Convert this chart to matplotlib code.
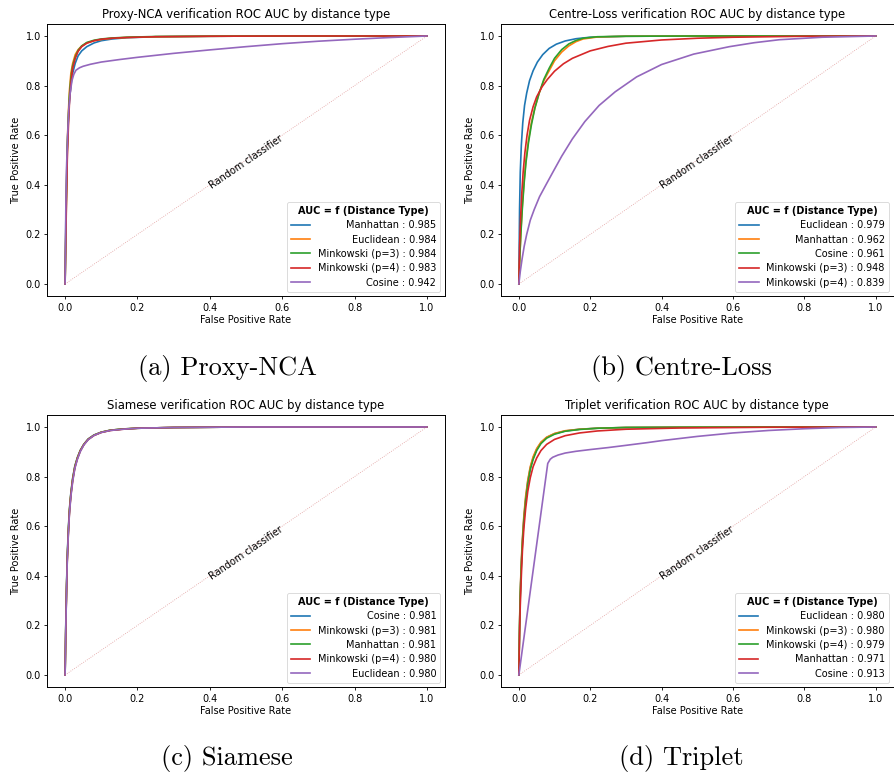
import matplotlib
matplotlib.use("Agg")
import matplotlib.pyplot as plt

plt.rcParams["font.family"] = ["DejaVu Sans"]

# ---------------- data: ROC points per model ----------------
proxy_labels = ["Manhattan", "Euclidean", "Minkowski (p=3)", "Minkowski (p=4)", "Cosine"]
proxy_auc = [0.985, 0.984, 0.984, 0.983, 0.942]
proxy_fpr_common = [0, 0.002, 0.004, 0.006, 0.009, 0.012, 0.016, 0.021, 0.028, 0.036,
                    0.046, 0.06, 0.08, 0.1, 0.13, 0.17, 0.25, 0.4, 0.6, 1.0]
proxy_fpr = [proxy_fpr_common] * 4 + [
    [0, 0.002, 0.004, 0.007, 0.01, 0.014, 0.019, 0.024, 0.03, 0.04, 0.05, 0.07, 0.1,
     0.15, 0.2, 0.3, 0.4, 0.5, 0.6, 0.7, 0.8, 0.9, 1.0]]
proxy_tpr = [
    [0, 0.25, 0.42, 0.55, 0.66, 0.74, 0.80, 0.85, 0.89, 0.92, 0.94, 0.957, 0.972, 0.981, 0.988, 0.993, 0.997, 0.999, 1.0, 1.0],
    [0, 0.22, 0.40, 0.56, 0.69, 0.78, 0.85, 0.89, 0.925, 0.945, 0.96, 0.972, 0.981, 0.986, 0.991, 0.994, 0.997, 0.999, 1.0, 1.0],
    [0, 0.20, 0.38, 0.54, 0.67, 0.76, 0.83, 0.88, 0.915, 0.942, 0.96, 0.974, 0.983, 0.988, 0.992, 0.995, 0.998, 0.999, 1.0, 1.0],
    [0, 0.18, 0.35, 0.50, 0.63, 0.73, 0.81, 0.87, 0.91, 0.938, 0.957, 0.971, 0.981, 0.987, 0.991, 0.994, 0.997, 0.999, 1.0, 1.0],
    [0, 0.30, 0.47, 0.60, 0.70, 0.77, 0.82, 0.845, 0.862, 0.872, 0.878, 0.886, 0.895, 0.905, 0.914, 0.93, 0.944, 0.957, 0.969, 0.979, 0.987, 0.994, 1.0],
]

centre_labels = ["Euclidean", "Manhattan", "Cosine", "Minkowski (p=3)", "Minkowski (p=4)"]
centre_auc = [0.979, 0.962, 0.961, 0.948, 0.839]
centre_fpr = [
    [0, 0.002, 0.004, 0.007, 0.011, 0.016, 0.022, 0.03, 0.04, 0.052, 0.067, 0.085, 0.105, 0.13, 0.16, 0.2, 0.3, 0.5, 1.0],
    [0, 0.003, 0.006, 0.01, 0.015, 0.02, 0.027, 0.035, 0.045, 0.057, 0.07, 0.085, 0.1, 0.12, 0.14, 0.16, 0.18, 0.22, 0.3, 0.5, 1.0],
    [0, 0.003, 0.006, 0.01, 0.015, 0.02, 0.027, 0.035, 0.045, 0.057, 0.07, 0.085, 0.1, 0.12, 0.14, 0.16, 0.18, 0.22, 0.3, 0.5, 1.0],
    [0, 0.002, 0.005, 0.008, 0.012, 0.017, 0.023, 0.03, 0.04, 0.05, 0.065, 0.08, 0.1, 0.125, 0.15, 0.2, 0.25, 0.3, 0.4, 0.5, 0.6, 0.8, 1.0],
    [0, 0.004, 0.009, 0.015, 0.022, 0.032, 0.043, 0.058, 0.076, 0.095, 0.12, 0.15, 0.185, 0.225, 0.27, 0.33, 0.4, 0.49, 0.59, 0.66, 0.73, 0.85, 1.0],
]
centre_tpr = [
    [0, 0.30, 0.45, 0.56, 0.65, 0.72, 0.77, 0.82, 0.86, 0.895, 0.925, 0.95, 0.967, 0.98, 0.989, 0.995, 0.999, 1.0, 1.0],
    [0, 0.12, 0.22, 0.32, 0.42, 0.50, 0.58, 0.65, 0.71, 0.77, 0.82, 0.86, 0.90, 0.935, 0.96, 0.977, 0.988, 0.996, 0.999, 1.0, 1.0],
    [0, 0.12, 0.21, 0.31, 0.41, 0.49, 0.57, 0.64, 0.71, 0.77, 0.825, 0.87, 0.91, 0.945, 0.968, 0.982, 0.991, 0.997, 0.999, 1.0, 1.0],
    [0, 0.15, 0.27, 0.36, 0.45, 0.53, 0.60, 0.66, 0.715, 0.755, 0.795, 0.825, 0.858, 0.888, 0.91, 0.94, 0.958, 0.971, 0.984, 0.991, 0.995, 0.999, 1.0],
    [0, 0.05, 0.10, 0.152, 0.20, 0.257, 0.30, 0.352, 0.40, 0.45, 0.515, 0.585, 0.655, 0.72, 0.775, 0.835, 0.885, 0.927, 0.957, 0.973, 0.985, 0.995, 1.0],
]

siamese_labels = ["Cosine", "Minkowski (p=3)", "Manhattan", "Minkowski (p=4)", "Euclidean"]
siamese_auc = [0.981, 0.981, 0.981, 0.980, 0.980]
siamese_fpr_common = [0, 0.002, 0.004, 0.006, 0.009, 0.012, 0.016, 0.021, 0.027, 0.034, 0.042,
                      0.052, 0.064, 0.08, 0.1, 0.125, 0.16, 0.2, 0.3, 0.5, 1.0]
siamese_fpr = [siamese_fpr_common] * 5
siamese_tpr = [
    [0, 0.21, 0.36, 0.48, 0.59, 0.67, 0.735, 0.795, 0.843, 0.877, 0.906, 0.931, 0.952, 0.968, 0.979, 0.987, 0.992, 0.995, 0.998, 1.0, 1.0],
    [0, 0.20, 0.35, 0.47, 0.58, 0.665, 0.73, 0.79, 0.84, 0.876, 0.905, 0.93, 0.951, 0.967, 0.979, 0.987, 0.992, 0.995, 0.998, 1.0, 1.0],
    [0, 0.20, 0.35, 0.47, 0.58, 0.66, 0.73, 0.79, 0.84, 0.875, 0.905, 0.93, 0.951, 0.967, 0.979, 0.987, 0.992, 0.995, 0.998, 1.0, 1.0],
    [0, 0.19, 0.34, 0.46, 0.57, 0.655, 0.725, 0.785, 0.836, 0.872, 0.903, 0.929, 0.95, 0.966, 0.978, 0.986, 0.991, 0.995, 0.998, 1.0, 1.0],
    [0, 0.19, 0.34, 0.46, 0.57, 0.65, 0.72, 0.78, 0.833, 0.87, 0.901, 0.928, 0.949, 0.966, 0.978, 0.986, 0.991, 0.995, 0.998, 1.0, 1.0],
]

triplet_labels = ["Euclidean", "Minkowski (p=3)", "Minkowski (p=4)", "Manhattan", "Cosine"]
triplet_auc = [0.980, 0.980, 0.979, 0.971, 0.913]
triplet_fpr_common = [0, 0.002, 0.004, 0.007, 0.01, 0.014, 0.019, 0.025, 0.032, 0.04, 0.05,
                      0.062, 0.078, 0.1, 0.13, 0.17, 0.22, 0.3, 0.45, 0.7, 1.0]
triplet_fpr = [triplet_fpr_common] * 4 + [
    [0, 0.081, 0.088, 0.095, 0.11, 0.13, 0.16, 0.2, 0.25, 0.3, 0.36, 0.4, 0.5, 0.6, 0.7, 0.8, 0.9, 1.0]]
triplet_tpr = [
    [0, 0.20, 0.33, 0.45, 0.54, 0.63, 0.71, 0.78, 0.835, 0.875, 0.91, 0.937, 0.958, 0.973, 0.984, 0.991, 0.995, 0.998, 0.999, 1.0, 1.0],
    [0, 0.21, 0.34, 0.46, 0.55, 0.64, 0.72, 0.785, 0.84, 0.88, 0.913, 0.939, 0.959, 0.974, 0.985, 0.991, 0.995, 0.998, 0.999, 1.0, 1.0],
    [0, 0.19, 0.32, 0.44, 0.53, 0.62, 0.70, 0.77, 0.828, 0.869, 0.905, 0.933, 0.955, 0.971, 0.983, 0.99, 0.995, 0.998, 0.999, 1.0, 1.0],
    [0, 0.16, 0.28, 0.40, 0.50, 0.59, 0.67, 0.74, 0.795, 0.84, 0.875, 0.905, 0.93, 0.95, 0.965, 0.976, 0.984, 0.991, 0.996, 0.999, 1.0],
    [0, 0.853, 0.87, 0.878, 0.887, 0.895, 0.902, 0.909, 0.917, 0.926, 0.937, 0.945, 0.962, 0.976, 0.986, 0.993, 0.998, 1.0],
]

panels = [
    ("Proxy-NCA", "(a) Proxy-NCA", proxy_labels, proxy_auc, proxy_fpr, proxy_tpr),
    ("Centre-Loss", "(b) Centre-Loss", centre_labels, centre_auc, centre_fpr, centre_tpr),
    ("Siamese", "(c) Siamese", siamese_labels, siamese_auc, siamese_fpr, siamese_tpr),
    ("Triplet", "(d) Triplet", triplet_labels, triplet_auc, triplet_fpr, triplet_tpr),
]

# ---------------- figure ----------------
W, H = 894, 774
fig = plt.figure(figsize=(W / 100, H / 100), dpi=100)

# axes rectangles in pixels: left, top, right, bottom
rects = [(47, 23.6, 445, 296.4), (501, 23.6, 893.5, 296.4),
         (47, 414.6, 445, 687.4), (501, 414.6, 893.5, 687.4)]
caption_pos = [(227, 368), (681, 368), (227, 758), (681, 758)]

fs = 7
legends = []
for (name, caption, labels, aucs, fprs, tprs), (l, t, r, b), (cx, cy) in zip(panels, rects, caption_pos):
    ax = fig.add_axes([l / W, (H - b) / H, (r - l) / W, (b - t) / H])
    for i, (lab, auc, fx, ty) in enumerate(zip(labels, aucs, fprs, tprs)):
        ax.plot(fx, ty, color=f"C{i}", lw=1.2, label=f"{lab} : {auc:.3f}")
    ax.plot([0, 1], [0, 1], ls=":", color="indianred", alpha=0.6, lw=0.6)
    ax.text(0.5, 0.49, "Random classifier", rotation=34.4, ha="center", va="center",
            fontsize=fs, rotation_mode="anchor")
    ax.set_title(f"{name} verification ROC AUC by distance type", fontsize=8.4, pad=4)
    ax.set_xlabel("False Positive Rate", fontsize=fs, labelpad=2)
    ax.set_ylabel("True Positive Rate", fontsize=fs, labelpad=3)
    ax.tick_params(labelsize=fs, length=2.5, width=0.6, pad=2)
    for s in ax.spines.values():
        s.set_linewidth(0.7)
    leg = ax.legend(loc="lower right", fontsize=fs, title="AUC = f (Distance Type)",
                    title_fontproperties={"weight": "bold", "size": fs},
                    handlelength=2.0, borderpad=0.4, labelspacing=0.45,
                    handletextpad=0.8, borderaxespad=0.5)
    leg.get_frame().set_linewidth(0.6)
    legends.append(leg)
    fig.text(cx / W, 1 - cy / H, caption, ha="center", va="center",
             fontsize=19, family="cmr10")

# right-align the legend entries inside each legend column
fig.canvas.draw()
renderer = fig.canvas.get_renderer()
for leg in legends:
    widths = [tx.get_window_extent(renderer).width for tx in leg.get_texts()]
    wmax = max(widths)
    for tx, w in zip(leg.get_texts(), widths):
        tx.set_position((wmax - w, 0))

fig.savefig("out.png", dpi=100)
